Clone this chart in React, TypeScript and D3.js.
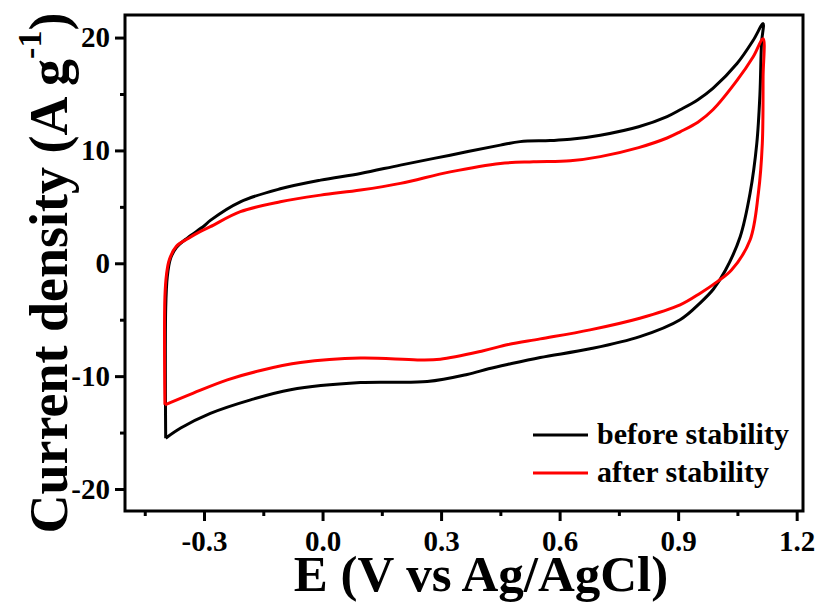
import * as d3 from 'd3';
import React, { useEffect, useRef } from 'react';

// CV loop, before stability test (potential V, current A/g)
const beforeE = [-0.397, -0.397, -0.393, -0.385, -0.37, -0.34, -0.3, -0.284, -0.208, -0.107, -0.005, 0.096, 0.197, 0.323, 0.45, 0.5, 0.576, 0.627, 0.703, 0.8, 0.872, 0.905, 0.95, 0.988, 1.049, 1.09, 1.115,
  1.111, 1.107, 1.099, 1.082, 1.057, 1.02, 0.989, 0.956, 0.905, 0.803, 0.677, 0.551, 0.47, 0.42, 0.366, 0.265, 0.096, -0.081, -0.182, -0.284, -0.359, -0.397];
const beforeI = [-15.5, -4.0, -1.2, 0.4, 1.4, 2.3, 3.3, 3.8, 5.45, 6.6, 7.37, 7.96, 8.7, 9.58, 10.47, 10.78, 10.87, 10.98, 11.35, 12.1, 13.0, 13.6, 14.5, 15.5, 17.7, 19.76, 21.24,
  19.5, 15.0, 10.6, 6.2, 2.35, -0.6, -2.3, -3.5, -5.0, -6.5, -7.58, -8.35, -8.95, -9.35, -9.85, -10.48, -10.57, -11.2, -12.1, -13.3, -14.6, -15.5];

// CV loop, after stability test
const afterE = [-0.399, -0.399, -0.395, -0.388, -0.37, -0.34, -0.31, -0.284, -0.208, -0.107, -0.005, 0.096, 0.197, 0.323, 0.45, 0.534, 0.627, 0.703, 0.8, 0.872, 0.905, 0.95, 0.988, 1.049, 1.09, 1.115,
  1.115, 1.113, 1.103, 1.082, 1.035, 1.0, 0.956, 0.905, 0.803, 0.677, 0.551, 0.47, 0.407, 0.298, 0.24, 0.096, -0.056, -0.157, -0.241, -0.327, -0.399];
const afterI = [-12.54, -3.0, -1.0, 0.3, 1.5, 2.2, 2.8, 3.24, 4.57, 5.45, 6.04, 6.49, 7.08, 8.1, 8.85, 8.99, 9.08, 9.45, 10.25, 11.1, 11.65, 12.5, 13.6, 16.2, 18.3, 19.9,
  16.5, 10.6, 6.2, 2.06, -0.6, -1.6, -2.65, -3.69, -4.87, -5.9, -6.7, -7.2, -7.75, -8.5, -8.56, -8.4, -8.8, -9.5, -10.33, -11.5, -12.54];

const xMajor = [-0.3, 0, 0.3, 0.6, 0.9, 1.2];
const xMinor = [-0.45, -0.15, 0.15, 0.45, 0.75, 1.05];
const yMajor = [-20, -10, 0, 10, 20];
const yMinor = [-15, -5, 5, 15];

const seriesNames = ['before stability', 'after stability'];
const seriesColors = ['#000000', '#ff0000'];

export default function App() {
  const svgRef = useRef<SVGSVGElement>(null);

  const width = 828;
  const height = 614;
  const left = 125, right = 803, top = 15, bottom = 511;

  useEffect(() => {
    const svg = d3.select(svgRef.current);
    svg.selectAll('*').remove();
    const font = '"Liberation Serif", "Times New Roman", serif';

    const x = d3.scaleLinear().domain([-0.5, 1.216]).range([left, right]);
    const y = d3.scaleLinear().domain([-21.95, 22.0]).range([bottom, top]);

    const series = [
      d3.zip(beforeE, beforeI) as [number, number][],
      d3.zip(afterE, afterI) as [number, number][],
    ];

    const line = d3.line<[number, number]>()
      .x(d => x(d[0]))
      .y(d => y(d[1]))
      .curve(d3.curveCatmullRom.alpha(0.5));

    // curves
    svg.append('g')
      .selectAll('path')
      .data(series)
      .enter()
      .append('path')
      .attr('d', d => line(d))
      .attr('fill', 'none')
      .attr('stroke', (d, i) => seriesColors[i])
      .attr('stroke-width', 3)
      .attr('stroke-linejoin', 'round');

    // x axis
    const gx = svg.append('g')
      .attr('transform', 'translate(0,' + bottom + ')')
      .call(d3.axisBottom(x).tickValues(xMajor).tickSize(10).tickSizeOuter(0)
        .tickFormat(d => (+d).toFixed(1)));
    gx.selectAll('text')
      .attr('y', 40)
      .attr('dy', 0)
      .attr('font-size', 29);
    svg.append('g')
      .attr('transform', 'translate(0,' + bottom + ')')
      .call(d3.axisBottom(x).tickValues(xMinor).tickSize(5).tickSizeOuter(0).tickFormat(() => ''));

    // y axis
    const gy = svg.append('g')
      .attr('transform', 'translate(' + left + ',0)')
      .call(d3.axisLeft(y).tickValues(yMajor).tickSize(10).tickSizeOuter(0).tickPadding(5)
        .tickFormat(d => String(d)));
    gy.selectAll('text')
      .attr('font-size', 29);
    svg.append('g')
      .attr('transform', 'translate(' + left + ',0)')
      .call(d3.axisLeft(y).tickValues(yMinor).tickSize(5).tickSizeOuter(0).tickFormat(() => ''));

    svg.selectAll('.domain').remove();
    svg.selectAll('.tick line').attr('stroke', '#000').attr('stroke-width', 3);
    svg.selectAll('.tick text')
      .attr('fill', '#000')
      .attr('font-family', font)
      .attr('font-weight', 'bold');

    // frame
    svg.append('rect')
      .attr('x', left)
      .attr('y', top)
      .attr('width', right - left)
      .attr('height', bottom - top)
      .attr('fill', 'none')
      .attr('stroke', '#000')
      .attr('stroke-width', 3);

    // legend
    const legend = svg.append('g');
    seriesNames.forEach((name, i) => {
      const ly = 435 + i * 38;
      legend.append('line')
        .attr('x1', 533).attr('x2', 588)
        .attr('y1', ly).attr('y2', ly)
        .attr('stroke', seriesColors[i])
        .attr('stroke-width', 3);
      legend.append('text')
        .attr('x', 597)
        .attr('y', ly + 9)
        .attr('font-family', font)
        .attr('font-weight', 'bold')
        .attr('font-size', 30)
        .text(name);
    });

    // x title
    svg.append('text')
      .attr('x', 481)
      .attr('y', 591)
      .attr('text-anchor', 'middle')
      .attr('font-family', font)
      .attr('font-weight', 'bold')
      .attr('font-size', 51)
      .text('E (V vs Ag/AgCl)');

    // y title
    const yt = svg.append('text')
      .attr('transform', 'translate(67,273) rotate(-90)')
      .attr('text-anchor', 'middle')
      .attr('font-family', font)
      .attr('font-weight', 'bold')
      .attr('font-size', 54);
    yt.append('tspan').text('Current density (A g');
    yt.append('tspan').attr('font-size', 34).attr('dy', -26).text('-1');
    yt.append('tspan').attr('dy', 26).text(')');
  }, []);

  return (
    <svg ref={svgRef} width={width} height={height}
      style={{ position: 'absolute', left: 0, top: 0, background: '#fff' }} />
  );
}
